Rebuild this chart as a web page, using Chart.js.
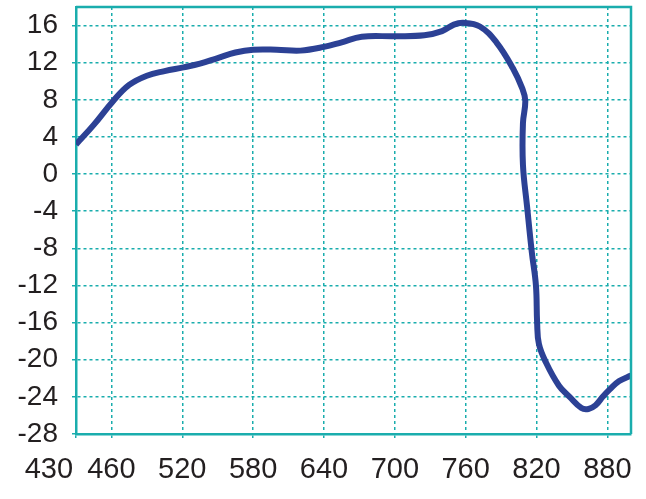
<!DOCTYPE html>
<html>
<head>
<meta charset="utf-8">
<script src="https://cdn.jsdelivr.net/npm/chart.js@4.4.1/dist/chart.umd.min.js"></script>
<style>
  html, body { margin: 0; padding: 0; background: #fff; }
  #wrap { width: 646px; height: 499px; }
</style>
</head>
<body>
<div id="wrap"><canvas id="canvas-1"></canvas></div>
<script>
// values
const xVals = [430, 445, 461, 475, 490, 505, 521, 535, 550, 565, 580, 600, 620, 640, 655, 672, 700, 725, 740, 750, 758, 772, 786, 800, 808, 810.5, 808.5, 808.5, 812, 816, 819.5, 820.5, 822, 828, 839, 848, 858, 864, 870, 876, 882, 890, 900];
const yVals = [3.2, 5.3, 7.8, 9.6, 10.6, 11.1, 11.5, 11.9, 12.5, 13.1, 13.4, 13.4, 13.3, 13.7, 14.2, 14.8, 14.85, 14.95, 15.4, 16.1, 16.3, 15.9, 14.2, 11.4, 9.2, 7.9, 5.5, 1.0, -3.5, -8.4, -12, -16, -18.3, -20.3, -22.8, -24, -25.2, -25.3, -24.9, -24, -23.2, -22.3, -21.7];
const xTicks = [430, 460, 520, 580, 640, 700, 760, 820, 880];
const yTicks = [-28, -24, -20, -16, -12, -8, -4, 0, 4, 8, 12, 16];

const teal = '#1aadad';
const punti = xVals.map((x, i) => ({ x: x, y: yVals[i] }));

// top and right frame
const okvir = {
  id: 'okvir',
  afterDraw(chart) {
    const a = chart.chartArea;
    const ctx = chart.ctx;
    ctx.save();
    ctx.strokeStyle = teal;
    ctx.lineWidth = 2.5;
    ctx.beginPath();
    ctx.moveTo(a.left, a.top);
    ctx.lineTo(a.right, a.top);
    ctx.lineTo(a.right, a.bottom);
    ctx.stroke();
    ctx.restore();
  }
};

new Chart(document.getElementById('canvas-1'), {
  type: 'line',
  data: {
    datasets: [{
      data: punti,
      borderColor: '#2c4195',
      borderWidth: 6,
      pointRadius: 0,
      tension: 0.4,
      fill: false
    }]
  },
  plugins: [okvir],
  options: {
    responsive: true,
    maintainAspectRatio: false,
    animation: false,
    layout: {
      padding: { top: 7, right: 15, left: 0, bottom: 0 }
    },
    plugins: {
      legend: { display: false },
      tooltip: { enabled: false }
    },
    scales: {
      x: {
        type: 'linear',
        min: 430,
        max: 900,
        afterBuildTicks: s => { s.ticks = xTicks.map(v => ({ value: v })); },
        afterFit: s => { s.paddingRight = 0; s.paddingLeft = 0; s.height = 65; },
        grid: { color: teal, lineWidth: 1.5, tickLength: 4, tickColor: teal },
        border: { color: teal, width: 2.5, dash: [3, 3] },
        ticks: {
          color: '#231f20',
          padding: 15,
          maxRotation: 0,
          autoSkip: false,
          // prvi broj stoji lijevo od ose
          callback: v => v === 430 ? '430      \u2009' : String(v),
          font: { size: 29, family: 'Liberation Sans' }
        }
      },
      y: {
        min: -28,
        max: 18,
        afterBuildTicks: s => { s.ticks = yTicks.map(v => ({ value: v })); },
        afterFit: s => { s.paddingTop = 0; s.paddingBottom = 0; s.width = 76; },
        grid: { color: teal, lineWidth: 1.5, tickLength: 4, tickColor: teal },
        border: { color: teal, width: 2.5, dash: [3, 3] },
        ticks: {
          color: '#231f20',
          padding: 14,
          autoSkip: false,
          font: { size: 28, family: 'Liberation Sans' }
        }
      }
    }
  }
});
</script>
</body>
</html>
